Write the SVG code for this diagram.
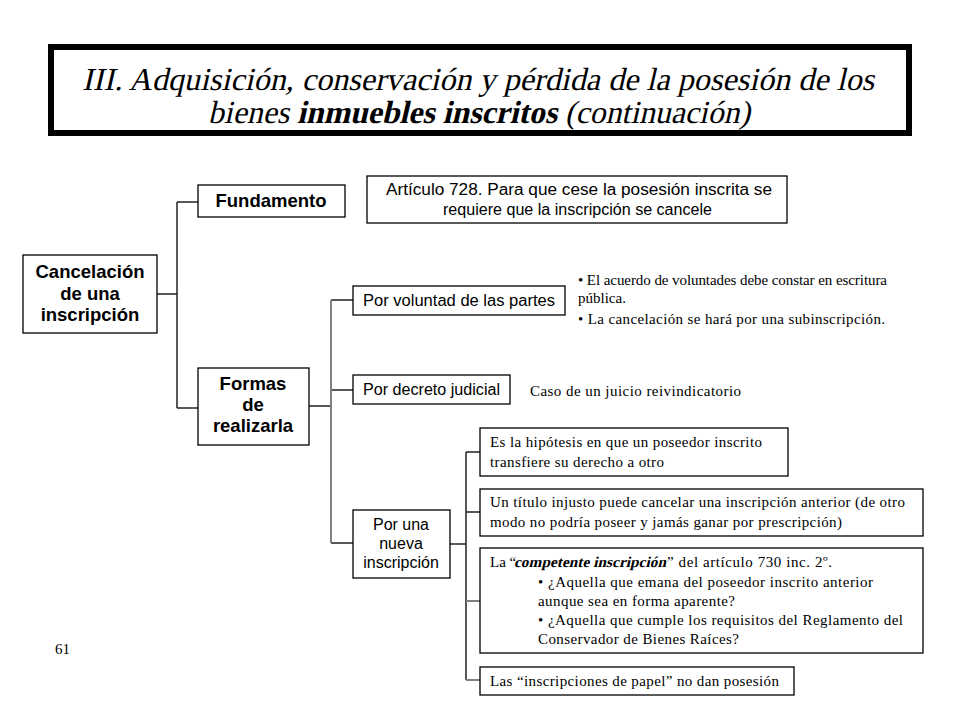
<svg xmlns="http://www.w3.org/2000/svg" width="960" height="720" viewBox="0 0 960 720">
<style>
.box{fill:#fff;stroke:#000;stroke-width:1.3}
.hb{font-family:"Liberation Sans",Arial,sans-serif;font-weight:bold;font-size:18.5px;fill:#000;text-anchor:middle}
.sn{font-family:"Liberation Sans",Arial,sans-serif;font-size:16px;fill:#000}
.c{text-anchor:middle}
.sf{font-family:"Liberation Serif","Times New Roman",serif;font-size:15px;fill:#000}
.ttl{font-family:"Liberation Serif","Times New Roman",serif;font-size:32px;fill:#000;text-anchor:middle}
.ln{fill:none;stroke:#222;stroke-width:1.5}
.lg{fill:none;stroke:#808080;stroke-width:2}
</style>
<rect width="960" height="720" fill="#fff"/>
<g id="title">
<rect x="51" y="47" width="858" height="86" fill="#fff" stroke="#000" stroke-width="6"/>
<text class="ttl" transform="translate(478,90) skewX(-13)" x="0" y="0" textLength="792" lengthAdjust="spacingAndGlyphs">III. Adquisición, conservación y pérdida de la posesión de los</text>
<text class="ttl" transform="translate(479,123) skewX(-13)" x="0" y="0" textLength="542" lengthAdjust="spacingAndGlyphs">bienes <tspan font-weight="bold">inmuebles inscritos</tspan> (continuación)</text>
</g>
<g id="connectors">
<path class="ln" d="M157 294H177M177 202V408M177 202H198M177 408H198"/>
<path class="ln" d="M309 406H331M331 300H353M331 390H353M331 543H353"/>
<path class="lg" d="M331 300V543"/>
<path class="ln" d="M450 544H466" stroke-width="2.5"/>
<path class="ln" d="M466 452V680M466 452H480M466 512H480"/>
<path class="lg" d="M466 601H480M466 680H480"/>
</g>
<g id="cancelacion">
<rect class="box" x="23" y="255" width="134" height="78"/>
<text class="hb" x="90" y="278">Cancelación</text>
<text class="hb" x="90" y="300">de una</text>
<text class="hb" x="90" y="321">inscripción</text>
</g>
<g id="fundamento">
<rect class="box" x="198" y="185" width="147" height="32"/>
<text class="hb" x="271" y="207">Fundamento</text>
</g>
<g id="formas">
<rect class="box" x="198" y="368" width="111" height="77"/>
<text class="hb" x="253" y="390">Formas</text>
<text class="hb" x="253" y="411">de</text>
<text class="hb" x="253" y="432">realizarla</text>
</g>
<g id="articulo">
<rect class="box" x="367" y="176" width="420" height="47"/>
<text class="sn" x="386" y="195" textLength="386" lengthAdjust="spacingAndGlyphs">Artículo 728. Para que cese la posesión inscrita se</text>
<text class="sn" x="443" y="215" textLength="269" lengthAdjust="spacingAndGlyphs">requiere que la inscripción se cancele</text>
</g>
<g id="voluntad">
<rect class="box" x="353" y="286" width="212" height="29"/>
<text class="sn" x="363" y="306" textLength="192" lengthAdjust="spacingAndGlyphs">Por voluntad de las partes</text>
</g>
<g id="voluntad-notas">
<text class="sf" x="578" y="285" font-size="14.5" textLength="309" lengthAdjust="spacing">• El acuerdo de voluntades debe constar en escritura</text>
<text class="sf" x="578" y="303" font-size="14.5">pública.</text>
<text class="sf" x="578" y="324" font-size="14.5" textLength="307" lengthAdjust="spacing">• La cancelación se hará por una subinscripción.</text>
</g>
<g id="decreto">
<rect class="box" x="353" y="375" width="157" height="29"/>
<text class="sn" x="363" y="395" textLength="137" lengthAdjust="spacingAndGlyphs">Por decreto judicial</text>
</g>
<g id="decreto-nota">
<text class="sf" x="530" y="396" textLength="211" lengthAdjust="spacing">Caso de un juicio reivindicatorio</text>
</g>
<g id="nueva">
<rect class="box" x="353" y="510" width="97" height="68"/>
<text class="sn c" x="401" y="530">Por una</text>
<text class="sn c" x="401" y="549">nueva</text>
<text class="sn c" x="401" y="568">inscripción</text>
</g>
<g id="hipotesis">
<rect class="box" x="480" y="428" width="308" height="48"/>
<text class="sf" x="490" y="447" textLength="272" lengthAdjust="spacing">Es la hipótesis en que un poseedor inscrito</text>
<text class="sf" x="490" y="467" textLength="174" lengthAdjust="spacing">transfiere su derecho a otro</text>
</g>
<g id="titulo-injusto">
<rect class="box" x="480" y="489" width="443" height="47"/>
<text class="sf" x="490" y="507" textLength="415" lengthAdjust="spacing">Un título injusto puede cancelar una inscripción  anterior (de otro</text>
<text class="sf" x="490" y="527" textLength="352" lengthAdjust="spacing">modo no podría poseer y jamás  ganar por prescripción)</text>
</g>
<g id="competente">
<rect class="box" x="480" y="548" width="443" height="105"/>
<text class="sf" x="490" y="567">La “</text>
<text class="sf" transform="translate(514,567) skewX(-13)" x="0" y="0" font-weight="bold" textLength="152" lengthAdjust="spacingAndGlyphs">competente inscripción</text>
<text class="sf" x="667" y="567" textLength="165" lengthAdjust="spacing">”  del artículo 730 inc. 2º.</text>
<text class="sf" x="538" y="587" textLength="335" lengthAdjust="spacing">•  ¿Aquella que emana del poseedor inscrito anterior</text>
<text class="sf" x="538" y="606" textLength="197" lengthAdjust="spacing">aunque sea en forma aparente?</text>
<text class="sf" x="538" y="625" textLength="365" lengthAdjust="spacing">• ¿Aquella que cumple los requisitos del Reglamento del</text>
<text class="sf" x="538" y="644" textLength="201" lengthAdjust="spacing">Conservador de Bienes Raíces?</text>
</g>
<g id="papel">
<rect class="box" x="480" y="667" width="314" height="28"/>
<text class="sf" x="490" y="686" textLength="289" lengthAdjust="spacing">Las “inscripciones  de papel” no dan posesión</text>
</g>
<g id="pagina">
<text class="sf" x="55" y="654" font-size="16">61</text>
</g>
</svg>
